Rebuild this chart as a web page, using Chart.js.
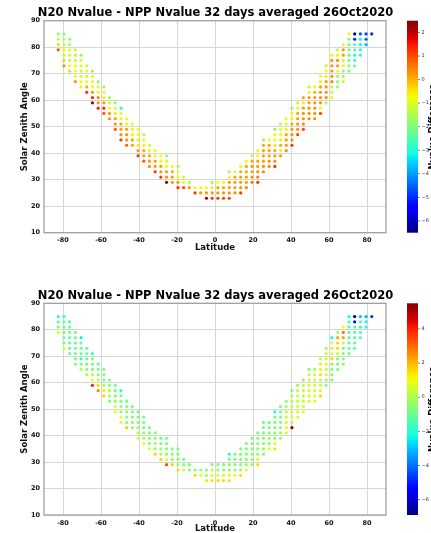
<!DOCTYPE html>
<html>
<head>
<meta charset="utf-8">
<script src="https://cdn.jsdelivr.net/npm/chart.js@4.4.1/dist/chart.umd.min.js"></script>
<style>
body { margin: 0; background: #fff; overflow: hidden; }
#wrap { position: relative; width: 431px; height: 533px; overflow: hidden; }
canvas { position: absolute; left: 0; }
#topChart { top: 0; }
#botChart { top: 266px; }
</style>
</head>
<body>
<div id="wrap">
  <canvas id="topChart" width="431" height="266"></canvas>
  <canvas id="botChart" width="431" height="285"></canvas>
</div>
<script>
const titleText = 'N20 Nvalue - NPP Nvalue 32 days averaged 26Oct2020';

// latitude bins (columns of dots)
const latitudes = [-82.5, -79.5, -76.5, -73.5, -70.5, -67.5, -64.5, -61.5, -58.5, -55.5,
  -52.5, -49.5, -46.5, -43.5, -40.5, -37.5, -34.5, -31.5, -28.5, -25.5,
  -22.5, -19.5, -16.5, -13.5, -10.5, -7.5, -4.5, -1.5, 1.5, 4.5,
  7.5, 10.5, 13.5, 16.5, 19.5, 22.5, 25.5, 28.5, 31.5, 34.5,
  37.5, 40.5, 43.5, 46.5, 49.5, 52.5, 55.5, 58.5, 61.5, 64.5,
  67.5, 70.5, 73.5, 76.5, 79.5, 82.5];

// lowest solar zenith angle bin in each column, bins go up in steps of 2
const szaFirst = [79, 73, 71, 67, 65, 63, 59, 57, 55, 53,
  49, 45, 43, 43, 39, 37, 35, 33, 31, 29,
  29, 27, 27, 27, 25, 25, 23, 23, 23, 23,
  23, 25, 25, 27, 29, 29, 33, 35, 35, 39,
  41, 43, 47, 49, 53, 53, 55, 59, 61, 65,
  67, 71, 73, 77, 81, 85];
const szaStep = 2;

// Nvalue difference per column, from lowest SZA upward
const topValues = [
  [0.9, -0.3, -1.3, -1.8],
  [0.3, -0.3, -1.3, -0.8, -1.3, -1.4, -1.9],
  [-0.3, -0.8, -1.2, -1.3, -0.9, -1.5, -1.9],
  [0.2, -0.8, -0.9, -0.8, -1.2, -1.3, -1.2],
  [-0.7, -0.8, -0.9, -1.3, -0.9, -1.0, -1.8],
  [1.3, 0.1, -0.8, -1.2, -0.9, -1.3],
  [2.3, 1.3, 0.3, -0.7, -0.8, -0.9, -1.8],
  [1.3, 0.3, 0.4, -0.7, -0.8, -1.8],
  [0.8, 1.2, 0.2, -0.6, -0.8, -1.7],
  [0.3, 0.2, -0.7, -0.8, -1.8],
  [0.8, 0.3, 0.2, -0.6, -0.8, -1.8],
  [1.2, 0.3, 0.2, 0.1, -0.6, -0.8, -3.0],
  [0.8, 0.3, 0.3, 0.2, -0.6, -0.8],
  [0.2, 0.1, -0.6, -0.7, -0.8],
  [1.2, 0.2, -0.5, -0.6, -0.7, -0.8],
  [0.8, 0.2, 0.1, -0.6, -0.8, -1.4],
  [0.3, 0.2, 0.1, -0.7, -1.3],
  [1.2, 0.2, 0.1, -0.6, -0.8],
  [1.2, 0.3, 0.2, -0.7, -0.8],
  [2.3, 0.3, 0.2, -0.7, -0.8, -1.8],
  [0.3, 0.2, 0.1, -0.8],
  [1.2, 0.2, -0.7, -0.8, -1.7],
  [0.9, -0.7, -1.3],
  [0.2, -1.4],
  [1.2, -0.8],
  [0.3, -0.8],
  [2.3, 0.3, -0.8],
  [1.2, 0.3, -0.6, -1.8],
  [1.2, 0.3, 0.1, -0.8],
  [1.1, 0.3, 0.1, -0.7],
  [1.1, 0.3, 0.2, 0.2, -0.7, -1.8],
  [0.3, 0.2, 0.2, 0.1, -0.8],
  [1.2, 0.3, 0.2, 0.2, 0.1, -0.8],
  [0.4, 0.2, 0.2, 0.1, 0.1, -0.7],
  [0.5, 0.3, 0.2, 0.2, 0.1, -1.3],
  [1.2, 0.5, 0.3, 0.2, 0.1, -0.6, -0.8],
  [0.4, 0.3, 0.2, 0.2, 0.1, 0.1, -1.8],
  [0.4, 0.3, 0.2, 0.2, 0.1, -0.8],
  [1.2, 0.3, 0.2, 0.1, -0.6, -0.7, -0.8, -1.8],
  [0.2, -0.6, 0.1, -0.6, -0.7, -0.8, -1.3],
  [0.3, 0.2, 0.2, 0.1, -0.6, -0.7, -0.8],
  [1.2, 0.3, 0.3, 0.2, 0.1, -0.6, -0.7, -1.8],
  [1.0, 0.3, 0.3, 0.2, 0.1, -0.7, -1.3],
  [1.0, 0.4, 0.3, 0.3, 0.2, -0.6, 0.1],
  [0.4, 0.3, 0.3, 0.2, 0.2, -0.7, -1.3],
  [0.4, 0.3, 0.3, 0.3, 0.2, 0.1, -0.7],
  [1.0, -0.7, 0.3, 0.3, 0.3, 0.2, -0.6, -0.8],
  [-1.3, 0.4, 0.3, 0.3, 0.2, -0.6, -0.7, -1.3],
  [-0.8, -1.3, -1.4, 0.4, 0.3, 0.3, 0.3, 0.2, -0.7],
  [-1.7, -1.8, -1.7, -0.7, 0.2, 0.3, -0.6, -1.3],
  [-1.3, -1.8, -1.8, -0.7, -0.6, 0.2, 0.3, -0.6],
  [-1.9, -2.0, -2.1, -2.2, -2.2, -2.1, -2.0, -0.8],
  [-2.0, -2.8, -3.0, -2.3, -2.4, -5.0, -6.2],
  [-2.8, -3.0, -3.2, -3.2, -4.6],
  [-3.8, -4.5, -4.8],
  [-5.0]
];

const bottomValues = [
  [0.9, -0.8, -1.5, -2.0],
  [0.8, -0.9, -1.0, -0.8, -1.0, -1.1, -1.9],
  [-1.0, -0.9, -1.1, -1.2, -0.9, -1.1, -1.8],
  [-0.6, -0.8, -1.0, -1.0, -1.1, -0.9, -0.8],
  [0.1, -0.6, -2.2, -0.9, -1.0, -1.1, -2.4],
  [0.2, -0.6, -0.8, -0.9, -0.9, -1.1],
  [4.0, 1.0, 0.1, -0.6, -0.7, -0.8, -2.0],
  [2.6, 1.6, 0.1, -0.6, -0.7, -0.9],
  [1.6, 1.4, 0.1, -0.6, -0.7, -0.8],
  [-0.5, 0.0, 0.1, -0.6, -0.8],
  [0.8, 0.7, -0.6, -0.7, -0.8, -0.9],
  [0.9, 0.7, -0.5, -0.6, -0.7, -0.8, -2.1],
  [1.7, -0.5, -0.6, -0.6, -0.7, -0.8],
  [-0.4, -0.6, -0.6, -0.7, -0.8],
  [0.9, 0.1, -0.5, -0.6, -0.7, -0.8],
  [0.9, -0.4, -0.5, -0.6, -0.7, -0.9],
  [0.8, -0.4, -0.5, -0.6, -0.8],
  [1.6, -0.3, -0.5, -0.6, -0.8],
  [1.6, 0.1, -0.5, -0.6, -0.8],
  [3.4, 0.9, -0.5, -0.6, -0.7, -0.9],
  [1.6, -0.5, -0.6, -0.7],
  [1.6, -0.4, -0.6, -0.7, -0.8],
  [0.9, -0.5, -0.7],
  [-0.5, -0.7],
  [1.5, -0.6],
  [0.9, -0.6],
  [1.4, -0.4, -0.6],
  [1.4, 0.9, 0.7, -0.8],
  [1.5, 0.9, -0.5, -0.7],
  [1.5, 0.8, -0.5, -0.6],
  [1.5, 0.9, -0.5, -0.6, -0.7, -2.2],
  [0.9, -0.4, -0.6, -0.7, -0.8],
  [1.5, -0.4, -0.5, -0.6, -0.7, -0.8],
  [0.9, -0.4, -0.5, -0.6, -0.7, -0.8],
  [-0.3, -0.4, -0.5, -0.6, -0.7, -0.8],
  [1.5, 0.6, -0.4, -0.5, -0.6, -0.7, -0.8],
  [-0.3, -0.4, -0.5, -0.6, -0.6, -0.7, -0.8],
  [0.8, -0.4, -0.5, -0.6, -0.7, -0.8],
  [1.5, 0.8, -0.4, -0.5, -0.6, -0.7, -0.8, -2.1],
  [-0.2, -0.3, -0.5, -0.6, -0.6, -0.7, -0.8],
  [0.7, 0.6, 0.6, 0.5, 0.1, 0.0, -0.6],
  [5.4, 0.1, 0.6, 0.5, 0.4, 0.1, 0.0, -0.6],
  [0.7, 0.6, 0.5, 0.4, 0.4, 0.3, -0.5],
  [0.8, 0.6, 0.5, 0.4, 0.4, 0.3, -0.5],
  [0.7, 0.6, 0.5, 0.4, 0.4, 0.3, -0.6],
  [0.7, 0.6, 0.6, 0.5, 0.4, 0.5, 0.0],
  [1.6, 0.6, 0.5, 0.5, 1.4, 0.6, 0.5, 0.4],
  [-0.6, -0.5, 0.4, 0.5, 0.6, 0.5, 0.4, 0.0],
  [-0.5, -0.6, -0.6, -0.4, 1.6, 0.7, 0.6, 0.6, -2.2],
  [-0.6, -0.7, -0.7, 0.6, 1.5, 1.6, 2.2, 0.1],
  [-0.6, -0.7, -0.8, -0.8, 0.7, 2.3, 2.8, 0.9],
  [-1.0, -1.1, -1.2, -1.2, -1.3, -1.3, -1.4, -2.2],
  [-1.1, -1.2, -1.3, -1.2, -1.4, -5.2, -6.6],
  [-1.2, -1.3, -2.0, -1.5, -3.0],
  [-2.0, -2.3, -3.2],
  [-4.6]
];

const xTicks = [-80, -60, -40, -20, 0, 20, 40, 60, 80];
const topRange = [-6.5, 2.5];
const bottomRange = [-6.9, 5.5];
const topBarTicks = [2, 1, 0, -1, -2, -3, -4, -5, -6];
const bottomBarTicks = [4, 2, 0, -2, -4, -6];

// matplotlib jet
const jetSeg = {
  r: [[0, 0], [0.35, 0], [0.66, 1], [0.89, 1], [1, 0.5]],
  g: [[0, 0], [0.125, 0], [0.375, 1], [0.64, 1], [0.91, 0], [1, 0]],
  b: [[0, 0.5], [0.11, 1], [0.34, 1], [0.65, 0], [1, 0]]
};
function seg(s, f) {
  for (let i = 1; i < s.length; i++) {
    if (f <= s[i][0]) {
      const [x0, y0] = s[i - 1], [x1, y1] = s[i];
      return y0 + (y1 - y0) * (f - x0) / (x1 - x0);
    }
  }
  return s[s.length - 1][1];
}
function jet(f) {
  f = Math.max(0, Math.min(1, f));
  const c = k => Math.round(255 * seg(jetSeg[k], f));
  return `rgb(${c('r')},${c('g')},${c('b')})`;
}

function buildPoints(values) {
  const pts = [];
  latitudes.forEach((lat, i) => {
    values[i].forEach((v, j) => pts.push({x: lat, y: szaFirst[i] + j * szaStep, v: v}));
  });
  return pts;
}

// frame + colorbar drawn next to the plot
const colorbar = {
  id: 'cbar',
  afterDraw(chart, args, o) {
    const {ctx, chartArea: a} = chart;
    ctx.save();
    ctx.strokeStyle = '#a0a0a0';
    ctx.lineWidth = 1.3;
    ctx.strokeRect(a.left, a.top, a.right - a.left, a.bottom - a.top);

    const x0 = 407, w = 11, h = a.bottom - a.top;
    const g = ctx.createLinearGradient(0, a.bottom, 0, a.top);
    for (let i = 0; i <= 60; i++) g.addColorStop(i / 60, jet(i / 60));
    ctx.fillStyle = g;
    ctx.fillRect(x0, a.top, w, h);

    ctx.fillStyle = '#333';
    ctx.strokeStyle = '#333';
    ctx.lineWidth = 0.6;
    ctx.font = '5px "DejaVu Sans"';
    ctx.textBaseline = 'middle';
    ctx.textAlign = 'left';
    o.ticks.forEach(t => {
      const y = a.bottom - (t - o.min) / (o.max - o.min) * h;
      ctx.beginPath();
      ctx.moveTo(x0 + w, y);
      ctx.lineTo(x0 + w + 2, y);
      ctx.stroke();
      ctx.fillText(t < 0 ? '\u2212' + (-t) : String(t), x0 + w + 3.5, y);
    });

    // colorbar label, mostly cut off by the right edge
    ctx.translate(428.5, (a.top + a.bottom) / 2);
    ctx.rotate(-Math.PI / 2);
    ctx.font = 'bold 8.5px "DejaVu Sans"';
    ctx.textAlign = 'center';
    ctx.textBaseline = 'top';
    ctx.fillStyle = '#000';
    ctx.fillText(o.label, 0, 0);
    ctx.restore();
  }
};

function makeChart(id, values, range, barTicks, lay) {
  const pts = buildPoints(values);
  const colors = pts.map(p => jet((p.v - range[0]) / (range[1] - range[0])));
  const tickFont = {family: 'DejaVu Sans', size: 6.5, weight: 'bold'};
  const labelFont = {family: 'DejaVu Sans', size: 8.5, weight: 'bold'};
  return new Chart(document.getElementById(id), {
    type: 'scatter',
    data: {
      datasets: [{
        data: pts,
        pointBackgroundColor: colors,
        pointBorderWidth: 0,
        pointRadius: 1.6,
        pointHoverRadius: 1.6
      }]
    },
    options: {
      responsive: false,
      animation: false,
      devicePixelRatio: 1,
      layout: {padding: 0},
      plugins: {
        legend: {display: false},
        tooltip: {enabled: false},
        title: {
          display: true,
          text: titleText,
          color: '#000',
          font: {family: 'DejaVu Sans', size: 11.5, weight: 'bold'},
          padding: {top: lay.titleTop, bottom: lay.titleBottom}
        },
        cbar: {min: range[0], max: range[1], ticks: barTicks, label: 'Nvalue Difference'}
      },
      scales: {
        x: {
          type: 'linear',
          min: -90,
          max: 90,
          afterBuildTicks: s => { s.ticks = xTicks.map(v => ({value: v})); },
          afterFit: s => { s.height = lay.xHeight; },
          grid: {color: '#d6d6d6', lineWidth: 1, drawTicks: false},
          border: {display: false},
          ticks: {color: '#111', font: tickFont, padding: 4, maxRotation: 0},
          title: {display: true, text: 'Latitude', color: '#111', font: labelFont,
            padding: {top: 0, bottom: lay.xTitlePad}}
        },
        y: {
          min: 10,
          max: 90,
          afterFit: s => { s.width = 44; },
          grid: {color: '#d6d6d6', lineWidth: 1, drawTicks: false},
          border: {display: false},
          ticks: {stepSize: 10, color: '#111', font: tickFont, padding: 4},
          title: {display: true, text: 'Solar Zenith Angle', color: '#111', font: labelFont,
            padding: {top: 20, bottom: 0}}
        },
        // empty right-hand axis that reserves room for the colorbar
        cb: {
          position: 'right',
          grid: {display: false},
          border: {display: false},
          ticks: {display: false},
          afterFit: s => { s.width = 45; }
        }
      }
    },
    plugins: [colorbar]
  });
}

makeChart('topChart', topValues, topRange, topBarTicks,
  {titleTop: 6.6, titleBottom: 0.3, xHeight: 33.3, xTitlePad: 12.9});
makeChart('botChart', bottomValues, bottomRange, bottomBarTicks,
  {titleTop: 23.5, titleBottom: 0, xHeight: 36, xTitlePad: 16.9});
</script>
</body>
</html>
